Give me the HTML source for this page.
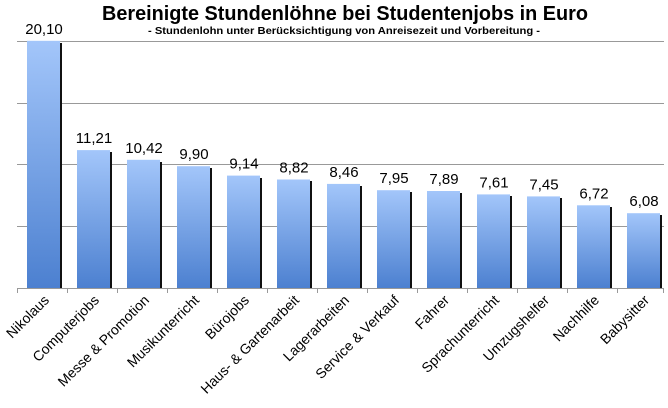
<!DOCTYPE html>
<html><head><meta charset="utf-8"><style>html,body{margin:0;padding:0;background:#fff}svg{display:block}</style></head><body>
<svg width="668" height="408" xmlns="http://www.w3.org/2000/svg" font-family="'Liberation Sans', sans-serif">
<defs><linearGradient id="g" x1="0" y1="0" x2="0" y2="1"><stop offset="0" stop-color="#a3c6fa"/><stop offset="1" stop-color="#4c80d0"/></linearGradient></defs>
<text x="345" y="20" text-anchor="middle" font-size="20" font-weight="bold" textLength="486" lengthAdjust="spacingAndGlyphs">Bereinigte Stundenlöhne bei Studentenjobs in Euro</text>
<text x="344" y="34" text-anchor="middle" font-size="10" font-weight="bold" textLength="392" lengthAdjust="spacingAndGlyphs">- Stundenlohn  unter Berücksichtigung von Anreisezeit und Vorbereitung -</text>
<g stroke="#999" stroke-width="1">
<line x1="17" y1="41.5" x2="664" y2="41.5"/><line x1="17" y1="103.5" x2="664" y2="103.5"/><line x1="17" y1="164.5" x2="664" y2="164.5"/><line x1="17" y1="226.5" x2="664" y2="226.5"/><line x1="17" y1="288.5" x2="664" y2="288.5"/>
<line x1="17.5" y1="288" x2="17.5" y2="293"/><line x1="67.5" y1="288" x2="67.5" y2="293"/><line x1="117.5" y1="288" x2="117.5" y2="293"/><line x1="167.5" y1="288" x2="167.5" y2="293"/><line x1="217.5" y1="288" x2="217.5" y2="293"/><line x1="267.5" y1="288" x2="267.5" y2="293"/><line x1="317.5" y1="288" x2="317.5" y2="293"/><line x1="367.5" y1="288" x2="367.5" y2="293"/><line x1="417.5" y1="288" x2="417.5" y2="293"/><line x1="467.5" y1="288" x2="467.5" y2="293"/><line x1="517.5" y1="288" x2="517.5" y2="293"/><line x1="567.5" y1="288" x2="567.5" y2="293"/><line x1="617.5" y1="288" x2="617.5" y2="293"/><line x1="663.5" y1="288" x2="663.5" y2="293"/>
</g>
<g font-size="15" text-anchor="middle">
<g transform="translate(27,0)"><rect x="33" y="43" width="2" height="245" fill="#111"/><rect x="0" y="40.8" width="33" height="247.2" fill="url(#g)"/><text x="17" y="33.8">20,10</text></g>
<g transform="translate(77,0)"><rect x="33" y="152" width="2" height="136" fill="#111"/><rect x="0" y="150.1" width="33" height="137.9" fill="url(#g)"/><text x="17" y="143.1">11,21</text></g>
<g transform="translate(127,0)"><rect x="33" y="162" width="2" height="126" fill="#111"/><rect x="0" y="159.8" width="33" height="128.2" fill="url(#g)"/><text x="17" y="152.8">10,42</text></g>
<g transform="translate(177,0)"><rect x="33" y="168" width="2" height="120" fill="#111"/><rect x="0" y="166.2" width="33" height="121.8" fill="url(#g)"/><text x="17" y="159.2">9,90</text></g>
<g transform="translate(227,0)"><rect x="33" y="178" width="2" height="110" fill="#111"/><rect x="0" y="175.6" width="33" height="112.4" fill="url(#g)"/><text x="17" y="168.6">9,14</text></g>
<g transform="translate(277,0)"><rect x="33" y="181" width="2" height="107" fill="#111"/><rect x="0" y="179.5" width="33" height="108.5" fill="url(#g)"/><text x="17" y="172.5">8,82</text></g>
<g transform="translate(327,0)"><rect x="33" y="186" width="2" height="102" fill="#111"/><rect x="0" y="183.9" width="33" height="104.1" fill="url(#g)"/><text x="17" y="176.9">8,46</text></g>
<g transform="translate(377,0)"><rect x="33" y="192" width="2" height="96" fill="#111"/><rect x="0" y="190.2" width="33" height="97.8" fill="url(#g)"/><text x="17" y="183.2">7,95</text></g>
<g transform="translate(427,0)"><rect x="33" y="193" width="2" height="95" fill="#111"/><rect x="0" y="191" width="33" height="97" fill="url(#g)"/><text x="17" y="184">7,89</text></g>
<g transform="translate(477,0)"><rect x="33" y="196" width="2" height="92" fill="#111"/><rect x="0" y="194.4" width="33" height="93.6" fill="url(#g)"/><text x="17" y="187.4">7,61</text></g>
<g transform="translate(527,0)"><rect x="33" y="198" width="2" height="90" fill="#111"/><rect x="0" y="196.4" width="33" height="91.6" fill="url(#g)"/><text x="17" y="189.4">7,45</text></g>
<g transform="translate(577,0)"><rect x="33" y="207" width="2" height="81" fill="#111"/><rect x="0" y="205.3" width="33" height="82.7" fill="url(#g)"/><text x="17" y="198.3">6,72</text></g>
<g transform="translate(627,0)"><rect x="33" y="215" width="2" height="73" fill="#111"/><rect x="0" y="213.2" width="33" height="74.8" fill="url(#g)"/><text x="17" y="206.2">6,08</text></g>
</g>
<g font-size="14" text-anchor="end">
<text transform="translate(50,301) rotate(-45)">Nikolaus</text>
<text transform="translate(100,301) rotate(-45)">Computerjobs</text>
<text transform="translate(150,301) rotate(-45)">Messe &amp; Promotion</text>
<text transform="translate(200,301) rotate(-45)">Musikunterricht</text>
<text transform="translate(250,301) rotate(-45)">Bürojobs</text>
<text transform="translate(300,301) rotate(-45)">Haus- &amp; Gartenarbeit</text>
<text transform="translate(350,301) rotate(-45)">Lagerarbeiten</text>
<text transform="translate(400,301) rotate(-45)">Service &amp; Verkauf</text>
<text transform="translate(450,301) rotate(-45)">Fahrer</text>
<text transform="translate(500,301) rotate(-45)">Sprachunterricht</text>
<text transform="translate(550,301) rotate(-45)">Umzugshelfer</text>
<text transform="translate(600,301) rotate(-45)">Nachhilfe</text>
<text transform="translate(650,301) rotate(-45)">Babysitter</text>
</g>
</svg>
</body></html>
